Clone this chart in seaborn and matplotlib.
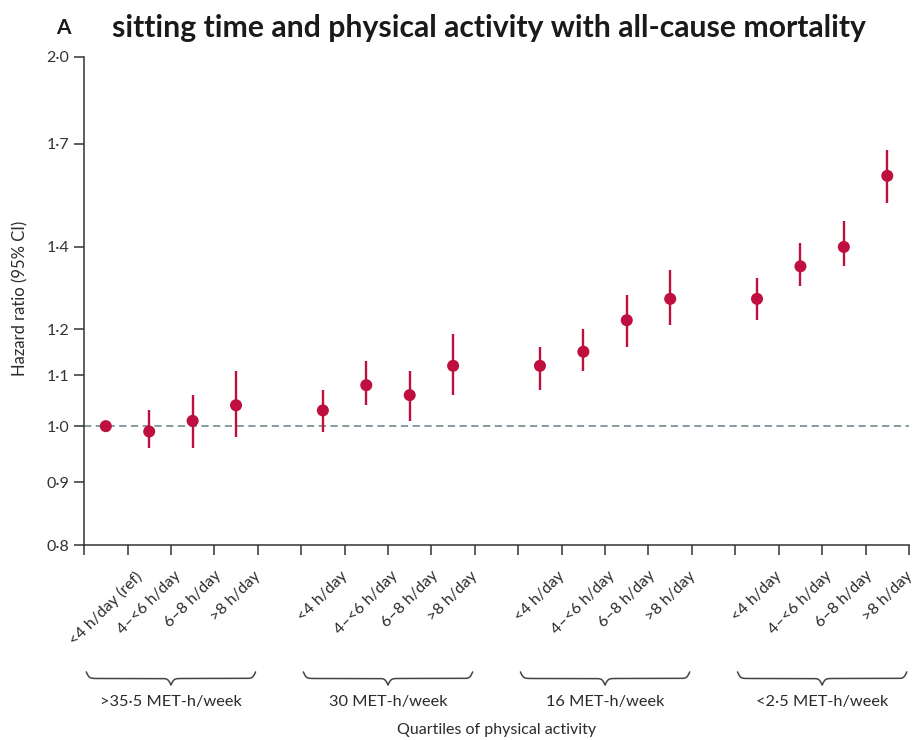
import matplotlib
matplotlib.use("Agg")
import matplotlib.pyplot as plt
import matplotlib.ticker as mticker
import numpy as np
import pandas as pd
import seaborn as sns

# Data (hazard ratio and 95% CI)
groups = [">35·5 MET-h/week", "30 MET-h/week", "16 MET-h/week", "<2·5 MET-h/week"]
sitting_first = ["<4 h/day (ref)", "4–<6 h/day", "6–8 h/day", ">8 h/day"]
sitting = ["<4 h/day", "4–<6 h/day", "6–8 h/day", ">8 h/day"]
hr = [1.00, 0.99, 1.01, 1.04,
      1.03, 1.08, 1.06, 1.12,
      1.12, 1.15, 1.22, 1.27,
      1.27, 1.35, 1.40, 1.60]
ci_low = [0.99, 0.96, 0.96, 0.98,
          0.99, 1.04, 1.01, 1.06,
          1.07, 1.11, 1.16, 1.21,
          1.22, 1.30, 1.35, 1.52]
ci_high = [1.01, 1.03, 1.06, 1.11,
           1.07, 1.13, 1.11, 1.19,
           1.16, 1.20, 1.28, 1.34,
           1.32, 1.41, 1.47, 1.68]
y_ticks = [0.8, 0.9, 1.0, 1.1, 1.2, 1.4, 1.7, 2.0]

RED = "#be0f3f"
GREY = "#7d939a"
DARK = "#2b2b2b"

rows = []
for gi, g in enumerate(groups):
    labs = sitting_first if gi == 0 else sitting
    for si, lab in enumerate(labs):
        k = gi * 4 + si
        rows.append({"group": g, "label": lab, "pos": gi * 5 + si,
                     "hr": hr[k], "lo": ci_low[k], "hi": ci_high[k]})
df = pd.DataFrame(rows)

sns.set_theme(style="ticks")
plt.rcParams["font.family"] = ["Lato", "DejaVu Sans"]

fig = plt.figure(figsize=(9.14, 7.4), dpi=100)
ax = fig.add_axes([0.092, 0.2635, 0.9025, 0.6595])

ax.axhline(1.0, color=GREY, ls=(0, (4, 2.5)), lw=1.3, zorder=1)
ax.vlines(df["pos"], df["lo"], df["hi"], color=RED, lw=1.7, zorder=2)
sns.scatterplot(data=df, x="pos", y="hr", color=RED, s=75, edgecolor="none",
                ax=ax, zorder=3)

ax.set_yscale("log")
ax.set_ylim(0.8, 2.0)
ax.yaxis.set_major_locator(mticker.FixedLocator(y_ticks))
ax.yaxis.set_major_formatter(mticker.FuncFormatter(lambda v, _: f"{v:.1f}".replace(".", "·")))
ax.yaxis.set_minor_locator(mticker.NullLocator())

ax.set_xlim(-0.5, 18.5)
ax.set_xticks(np.arange(-0.5, 19, 1))
ax.set_xticklabels([])
ax.set_xticks(df["pos"], minor=True)
ax.set_xticklabels(df["label"], minor=True, rotation=45, fontsize=11.5, color=DARK)
ax.tick_params(axis="x", which="minor", length=0, pad=17)
ax.tick_params(which="major", direction="out", length=7, width=1.1, color="#333333",
               labelcolor="#333333", labelsize=11.5)
sns.despine(ax=ax)
for s in ["left", "bottom"]:
    ax.spines[s].set_color("#333333")
    ax.spines[s].set_linewidth(1.1)

ax.set_ylabel("Hazard ratio (95% CI)", fontsize=12, color=DARK)
ax.yaxis.set_label_coords(-0.067, 0.506)
ax.set_xlabel("Quartiles of physical activity", fontsize=11.5, color=DARK)
ax.xaxis.set_label_coords(0.5, -0.364)

# curly braces under each group
trans = ax.get_xaxis_transform()
for gi, g in enumerate(groups):
    x0, x1 = gi * 5 - 0.45, gi * 5 + 3.45
    xm = (x0 + x1) / 2
    xh = np.linspace(x0, xm, 200)
    yh = 1 / (1 + np.exp(-30 * (xh - x0))) + 1 / (1 + np.exp(-30 * (xh - xm)))
    xs = np.concatenate([xh, 2 * xm - xh[::-1]])
    ys = np.concatenate([yh, yh[::-1]])
    ax.plot(xs, -0.2465 - 0.027 * ys, color="#444444", lw=1.1,
            transform=trans, clip_on=False)
    ax.text(xm, -0.322, g, transform=trans, ha="center", va="center",
            fontsize=11.8, color=DARK)

fig.text(0.069, 0.962, "A", fontsize=15, fontweight="bold", color="#1a1a1a",
         ha="center", va="center")
fig.text(0.1225, 0.962, "sitting time and physical activity with all-cause mortality",
         fontsize=21.7, fontweight="bold", color="#1a1a1a", ha="left", va="center")

fig.savefig("out.png", dpi=100)
